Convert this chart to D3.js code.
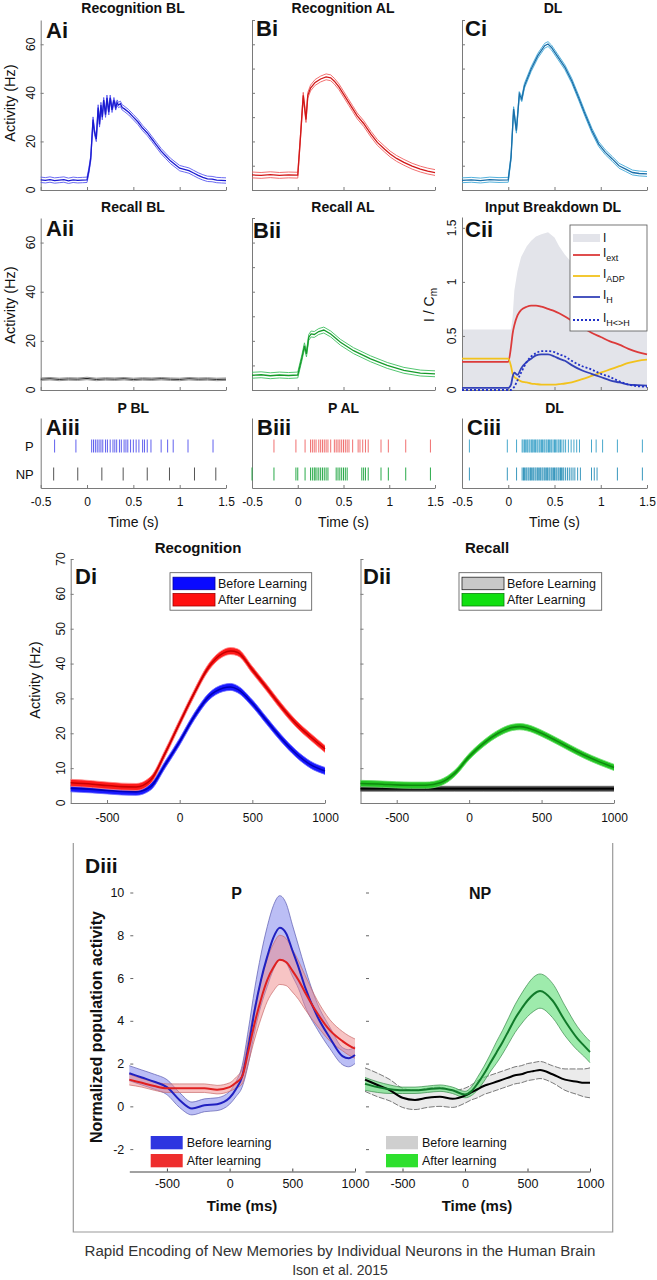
<!DOCTYPE html>
<html><head><meta charset="utf-8">
<script src="https://cdn.jsdelivr.net/npm/d3@7"></script>
<style>body{margin:0;background:#fff}svg{display:block}</style>
</head><body><svg id="c" width="657" height="1280"></svg>
<script>
// ================= DATA =================
// Row i (time in s, activity in Hz)
const aiT=[-0.5,-0.45,-0.4,-0.35,-0.3,-0.25,-0.2,-0.15,-0.1,-0.05,0,0.02,0.04,0.065,0.08,0.1,0.12,0.135,0.15,0.165,0.18,0.2,0.215,0.235,0.25,0.27,0.29,0.31,0.325,0.34,0.36,0.38,0.4,0.45,0.5,0.55,0.6,0.65,0.7,0.75,0.8,0.85,0.9,0.95,1.0,1.05,1.1,1.15,1.2,1.25,1.3,1.35,1.4,1.45,1.5];
const aiV=[4.2,4.0,4.3,3.9,4.1,4.3,3.8,4.2,4.0,4.1,4.2,8,13,29,24,21,34,27,35,30,37,31,38,32,38,33,37,34,36,35,35.5,34,33.5,32,30,28,25.5,23.5,21,18.5,16,14,12,10.5,9,8.5,8,7,6,5.2,4.6,4.5,4.1,4.0,3.9];
const aiSem=1.1;
const biT=[-0.5,-0.4,-0.3,-0.2,-0.1,0,0.03,0.06,0.09,0.11,0.14,0.19,0.25,0.31,0.36,0.4,0.45,0.5,0.55,0.6,0.65,0.72,0.8,0.87,0.95,1.01,1.08,1.16,1.25,1.34,1.42,1.5];
const biV=[6.2,6.0,6.3,6.0,6.2,6.1,22,39,29,39,42,44.3,45.7,46.6,46.2,44.8,42.5,39.5,36.5,33.5,30.5,27.4,23,19.6,16.8,14.8,13,11.4,9.8,8.6,7.8,7.2];
const biSem=1.2;
const ciT=[-0.5,-0.4,-0.3,-0.2,-0.1,0,0.03,0.058,0.088,0.12,0.146,0.175,0.248,0.32,0.394,0.43,0.467,0.54,0.613,0.686,0.76,0.83,0.905,0.978,1.05,1.124,1.197,1.27,1.343,1.416,1.5];
const ciV=[4.0,4.2,3.9,4.3,4.1,4.2,13.4,33.3,24.4,39.5,37.4,42.9,49.8,55.3,59.4,60.1,58.7,54.6,50.5,45,38.1,31.3,24.4,18.9,15.5,12.8,10,8.6,7.2,6.8,6.6];
const ciSem=1.0;
// Row ii
const aiiT=[-0.5,-0.4,-0.3,-0.2,-0.1,0,0.1,0.2,0.3,0.4,0.5,0.6,0.7,0.8,0.9,1.0,1.1,1.2,1.3,1.4,1.5];
const aiiV=[4.4,4.6,4.3,4.5,4.4,4.7,4.3,4.5,4.4,4.6,4.3,4.5,4.4,4.6,4.4,4.3,4.6,4.4,4.5,4.3,4.4];
const aiiSem=0.5;
const biiT=[-0.5,-0.4,-0.3,-0.2,-0.1,0,0.047,0.073,0.095,0.12,0.146,0.18,0.23,0.285,0.36,0.467,0.61,0.796,0.978,1.16,1.34,1.5];
const biiV=[6.0,6.2,5.8,6.1,5.9,6.1,13.4,18,14.7,21.4,22.8,22.6,23.8,24.4,22.8,19.4,16,12.7,10,8,6.9,6.6];
const biiSem=1.2;
// Cii input breakdown (I / Cm)
const ciiT=[-0.5,-0.25,0,0.03,0.047,0.066,0.1,0.139,0.2,0.248,0.3,0.358,0.43,0.5,0.55,0.613,0.686,0.8,0.9,1.0,1.1,1.2,1.3,1.4,1.5];
const ciiI=[0.56,0.56,0.56,0.56,0.67,0.92,1.1,1.23,1.33,1.38,1.42,1.44,1.46,1.41,1.33,1.25,1.18,1.0,0.85,0.75,0.7,0.69,0.68,0.68,0.68];
const ciiExt=[0.26,0.26,0.26,0.4,0.52,0.6,0.69,0.74,0.77,0.78,0.78,0.77,0.75,0.73,0.71,0.68,0.64,0.58,0.53,0.49,0.45,0.42,0.38,0.35,0.33];
const ciiADP=[0.29,0.29,0.29,0.22,0.15,0.12,0.1,0.08,0.07,0.06,0.055,0.05,0.05,0.05,0.055,0.06,0.07,0.1,0.13,0.16,0.19,0.22,0.25,0.27,0.28];
const ciiH=[0.02,0.02,0.02,0.05,0.12,0.16,0.14,0.2,0.26,0.29,0.32,0.33,0.33,0.31,0.29,0.27,0.23,0.18,0.15,0.12,0.09,0.07,0.05,0.045,0.04];
const ciiHH=[0.0,0.0,0.0,0.0,0.01,0.03,0.09,0.16,0.26,0.31,0.34,0.36,0.36,0.35,0.33,0.31,0.27,0.22,0.19,0.15,0.12,0.08,0.05,0.035,0.03];
// Row iii rasters (spike times, s)
const rasterRows=['P','NP'];
const rasterPBL=[-0.35,-0.12,0.05,0.07,0.09,0.11,0.13,0.15,0.17,0.2,0.22,0.25,0.28,0.3,0.32,0.35,0.37,0.4,0.42,0.44,0.47,0.5,0.53,0.56,0.6,0.62,0.65,0.69,0.8,0.87,0.93,1.09,1.36];
const rasterNPBL=[-0.36,-0.1,0.16,0.39,0.65,0.89,1.16,1.39];
const rasterPAL=[-0.26,-0.02,0.08,0.14,0.16,0.18,0.2,0.23,0.25,0.27,0.29,0.31,0.33,0.36,0.4,0.42,0.44,0.46,0.48,0.5,0.52,0.54,0.56,0.6,0.66,0.68,0.71,0.74,0.77,0.91,0.99,1.18,1.45];
const rasterNPAL=[-0.5,-0.26,-0.02,0.0,0.08,0.14,0.16,0.18,0.19,0.21,0.23,0.25,0.27,0.29,0.31,0.33,0.42,0.44,0.46,0.48,0.5,0.52,0.54,0.7,0.72,0.74,0.77,0.91,0.99,1.18,1.45];
const rasterPDL=[-0.42,-0.01,0.09,0.15,0.16,0.175,0.185,0.2,0.21,0.225,0.235,0.25,0.26,0.27,0.285,0.295,0.31,0.32,0.335,0.345,0.36,0.37,0.385,0.395,0.41,0.42,0.435,0.445,0.46,0.47,0.485,0.5,0.51,0.525,0.54,0.55,0.565,0.58,0.6,0.62,0.65,0.68,0.71,0.74,0.77,0.9,0.95,1.02,1.18,1.45];
const rasterNPDL=[-0.42,-0.01,0.09,0.15,0.165,0.175,0.19,0.2,0.215,0.225,0.24,0.25,0.265,0.275,0.29,0.3,0.315,0.325,0.34,0.35,0.365,0.375,0.39,0.4,0.415,0.425,0.44,0.45,0.465,0.475,0.49,0.5,0.515,0.525,0.54,0.55,0.565,0.575,0.59,0.6,0.62,0.64,0.66,0.68,0.7,0.72,0.75,0.78,0.9,0.93,0.96,1.18,1.45];
// D panels (time in ms)
const dT=[-750,-600,-500,-400,-300,-200,-100,0,100,200,300,350,400,500,600,700,800,900,1000];
const diBefore=[4.2,3.9,3.6,3.3,3.2,4.7,11,17.6,24.8,30.5,33,33.3,32.6,28.6,23.5,18.5,14.2,11,9.2];
const diAfter=[5.8,5.4,5.0,4.7,4.6,6.6,14.3,23,31.5,39,43,43.6,43.2,38.2,33,27.6,22.8,19,15.5];
const diiBefore=[4.1,4.1,4.1,4.1,4.1,4.1,4.1,4.1,4.1,4.1,4.1,4.1,4.1,4.1,4.1,4.1,4.1,4.1,4.1];
const diiAfter=[5.6,5.4,5.2,5.1,5.1,5.8,8.5,13.3,17.1,20,21.7,21.9,21.6,20,17.9,15.7,13.6,11.8,10.2];
const dSem=1.0;
// Diii normalized population activity
const pT=[-800,-700,-600,-500,-400,-300,-200,-100,0,50,100,150,200,250,300,350,400,450,500,550,600,700,800,900,950,1000];
const pBefore=[1.55,1.35,1.15,0.9,0.3,-0.1,0.05,0.1,0.4,0.8,1.4,2.8,4.5,5.9,7.0,7.9,8.35,8.1,7.3,6.5,5.6,4.2,3.2,2.35,2.25,2.4];
const pBeforeSE=[0.35,0.35,0.35,0.35,0.35,0.3,0.3,0.3,0.3,0.35,0.5,0.8,1.0,1.2,1.4,1.5,1.5,1.4,1.2,1.0,0.9,0.6,0.5,0.4,0.4,0.4];
const pAfter=[1.25,1.1,0.95,0.85,0.85,0.85,0.85,0.78,0.9,1.1,1.4,2.6,3.9,5.0,5.9,6.5,6.85,6.75,6.35,5.9,5.35,4.35,3.55,3.05,2.85,2.7];
const pAfterSE=[0.25,0.2,0.2,0.2,0.2,0.2,0.2,0.2,0.2,0.25,0.35,0.55,0.75,0.9,1.0,1.1,1.15,1.1,1.0,0.9,0.8,0.6,0.5,0.45,0.45,0.45];
const npBefore=[1.25,1.0,0.75,0.4,0.3,0.4,0.45,0.35,0.5,0.65,0.8,0.95,1.05,1.15,1.25,1.35,1.45,1.5,1.6,1.65,1.7,1.5,1.25,1.15,1.1,1.1];
const npBeforeSE=[0.55,0.55,0.5,0.45,0.45,0.45,0.45,0.4,0.35,0.35,0.4,0.4,0.4,0.4,0.4,0.4,0.4,0.4,0.4,0.4,0.4,0.4,0.5,0.6,0.65,0.7];
const npAfter=[1.05,0.9,0.8,0.75,0.75,0.8,0.85,0.75,0.55,0.7,1.06,1.5,2.0,2.5,3.0,3.55,4.1,4.55,4.95,5.25,5.39,4.95,4.0,3.17,2.85,2.54];
const npAfterSE=[0.3,0.25,0.2,0.15,0.15,0.15,0.15,0.15,0.15,0.2,0.3,0.35,0.4,0.5,0.55,0.6,0.65,0.7,0.75,0.8,0.8,0.8,0.7,0.55,0.5,0.5];
// ticks
const secTicks=[-0.5,0,0.5,1,1.5];
const hzTicks10=[0,10,20,30,40,50,60,70];
const hzTicks20=[0,20,40,60];
const cmTicks=[0,0.5,1,1.5];
const msTicks=[-500,0,500,1000];
const normTicks=[-2,0,2,4,6,8,10];

// ================= DRAWING =================
const FONT='"Liberation Sans", Arial, Helvetica, sans-serif';
const AX='#7a7a7a';
const svg=d3.select('#c').style('font-family',FONT);
svg.append('rect').attr('width',657).attr('height',1280).attr('fill','#fff');

function panel(x0,x1,y0,y1,xd,yd){
  return {x:d3.scaleLinear().domain(xd).range([x0,x1]),y:d3.scaleLinear().domain(yd).range([y1,y0]),x0,x1,y0,y1};
}
function axes(p,xt,yt,o={}){
  const gx=svg.append('g').attr('transform',`translate(0,${p.y1})`)
    .call(d3.axisBottom(p.x).tickValues(xt).tickSizeInner(-3).tickSizeOuter(0).tickPadding(o.xpad||9)
      .tickFormat(o.xlab?(d=>String(d)):''));
  gx.selectAll('path,line').attr('stroke',AX);
  gx.selectAll('text').attr('fill','#111').style('font-size',(o.fs||12)+'px').style('font-family',FONT);
  if(o.noY) return;
  const gy=svg.append('g').attr('transform',`translate(${p.x0},0)`)
    .call(d3.axisLeft(p.y).tickValues(yt).tickSizeInner(-3).tickSizeOuter(0).tickFormat(''));
  gy.selectAll('path,line').attr('stroke',AX);
  if(o.ylabRot){
    yt.forEach(v=>{
      svg.append('text').attr('transform',`translate(${p.x0-o.ylabRot},${p.y(v)}) rotate(-90)`)
        .attr('text-anchor','middle').attr('dominant-baseline','central')
        .style('font-size','12px').attr('fill','#111').text(String(v));
    });
  }
}
function txt(x,y,s,o={}){
  const t=svg.append('text').attr('x',x).attr('y',y).attr('text-anchor',o.anchor||'middle')
    .attr('dominant-baseline','central').style('font-size',(o.fs||12)+'px')
    .style('font-weight',o.bold?'bold':'normal').attr('fill',o.fill||'#111').text(s);
  if(o.rot) t.attr('transform',`rotate(-90,${x},${y})`);
  return t;
}
function zip(T,V,off){return T.map((t,i)=>[t,V[i]+(off?off[i]:0)]);}
function semLines(p,T,V,sem,col,meanCol,w){
  const ln=d3.line().x(d=>p.x(d[0])).y(d=>p.y(d[1]));
  [sem,-sem].forEach(s=>svg.append('path').attr('d',ln(T.map((t,i)=>[t,V[i]+s])))
    .attr('fill','none').attr('stroke',col).attr('stroke-width',0.9));
  svg.append('path').attr('d',ln(zip(T,V))).attr('fill','none').attr('stroke',meanCol).attr('stroke-width',w||1.3);
}

// ----- columns -----
const colX=[[40.7,226],[252,435],[462,647]];

// Row i
const pAi=panel(colX[0][0],colX[0][1],20,190,[-0.5,1.5],[0,70]);
const pBi=panel(colX[1][0],colX[1][1],20,190,[-0.5,1.5],[0,70]);
const pCi=panel(colX[2][0],colX[2][1],20,190,[-0.5,1.5],[0,70]);
axes(pAi,secTicks,hzTicks20,{ylabRot:10});
axes(pBi,secTicks,hzTicks10);
axes(pCi,secTicks,hzTicks10);
semLines(pAi,aiT,aiV,aiSem,'#5a5af0','#1a1ad0');
semLines(pBi,biT,biV,biSem,'#f06060','#d01818');
semLines(pCi,ciT,ciV,ciSem,'#40a8d8','#1a6ea8');
txt(133,8,'Recognition BL',{bold:true,fs:14});
txt(343,8,'Recognition AL',{bold:true,fs:14});
txt(553,8,'DL',{bold:true,fs:14});
txt(46,30,'Ai',{bold:true,fs:22,anchor:'start'});
txt(256,28,'Bi',{bold:true,fs:22,anchor:'start'});
txt(465,28,'Ci',{bold:true,fs:22,anchor:'start'});
txt(10,103,'Activity (Hz)',{fs:14.5,rot:true});

// Row ii
const pAii=panel(colX[0][0],colX[0][1],218,390,[-0.5,1.5],[0,70]);
const pBii=panel(colX[1][0],colX[1][1],218,390,[-0.5,1.5],[0,70]);
const pCii=panel(colX[2][0],colX[2][1],217,390,[-0.5,1.5],[0,1.6]);
// Cii gray total input area
svg.append('path').attr('d',d3.area().x(d=>pCii.x(d[0])).y0(pCii.y(0)).y1(d=>pCii.y(d[1]))(zip(ciiT,ciiI)))
  .attr('fill','#e3e4ea');
axes(pAii,secTicks,hzTicks20,{ylabRot:10});
axes(pBii,secTicks,hzTicks10);
axes(pCii,secTicks,cmTicks,{ylabRot:10});
semLines(pAii,aiiT,aiiV,aiiSem,'#888','#222',1);
semLines(pBii,biiT,biiV,biiSem,'#40c060','#159a2a');
const lnC=d3.line().x(d=>pCii.x(d[0])).y(d=>pCii.y(d[1])).curve(d3.curveMonotoneX);
const ciiSeries=[
  {v:ciiExt,c:'#dc3a3a',dash:null,name:'ext'},
  {v:ciiADP,c:'#f2c21c',dash:null,name:'ADP'},
  {v:ciiH,c:'#3442b8',dash:null,name:'H'},
  {v:ciiHH,c:'#2030c8',dash:'2,2',name:'H<>H'}];
ciiSeries.forEach(s=>svg.append('path').attr('d',lnC(zip(ciiT,s.v))).attr('fill','none')
  .attr('stroke',s.c).attr('stroke-width',1.8).attr('stroke-dasharray',s.dash));
// Cii legend
const lg=svg.append('g');
lg.append('rect').attr('x',570).attr('y',225).attr('width',77).attr('height',106).attr('fill','#fff').attr('stroke','#555').attr('stroke-width',0.8);
lg.append('rect').attr('x',573).attr('y',234).attr('width',27).attr('height',8).attr('fill','#e3e4ea');
function legLab(y,sub){
  const t=lg.append('text').attr('x',603).attr('y',y).style('font-size','12px').attr('fill','#111').text('I');
  if(sub) t.append('tspan').attr('dy',4).style('font-size','9px').text(sub);
}
legLab(242,null);
const legRowsY=[255,276,297,320];
ciiSeries.forEach((s,i)=>{
  lg.append('line').attr('x1',573).attr('x2',600).attr('y1',legRowsY[i]).attr('y2',legRowsY[i])
    .attr('stroke',s.c).attr('stroke-width',1.8).attr('stroke-dasharray',s.dash);
  legLab(legRowsY[i]+2,s.name);
});
txt(133,207,'Recall BL',{bold:true,fs:14});
txt(343,207,'Recall AL',{bold:true,fs:14});
txt(553,207,'Input Breakdown DL',{bold:true,fs:14});
txt(46,228,'Aii',{bold:true,fs:22,anchor:'start'});
txt(253,230,'Bii',{bold:true,fs:22,anchor:'start'});
txt(465,229,'Cii',{bold:true,fs:22,anchor:'start'});
txt(10,305,'Activity (Hz)',{fs:14.5,rot:true});
const cmLab=svg.append('text').attr('transform','translate(429,305) rotate(-90)').attr('text-anchor','middle')
  .attr('dominant-baseline','central').style('font-size','14px').attr('fill','#111').text('I / C');
cmLab.append('tspan').attr('dy',4).style('font-size','10px').text('m');

// Row iii rasters
const rasters=[
  {col:0,P:rasterPBL,NP:rasterNPBL,cP:'#6060ee',cNP:'#555',title:'P BL',lab:'Aiii'},
  {col:1,P:rasterPAL,NP:rasterNPAL,cP:'#f07070',cNP:'#2aaa4a',title:'P AL',lab:'Biii'},
  {col:2,P:rasterPDL,NP:rasterNPDL,cP:'#48a8cc',cNP:'#3a98be',title:'DL',lab:'Ciii'}];
rasters.forEach(r=>{
  const p=panel(colX[r.col][0],colX[r.col][1],418,488,[-0.5,1.5],[0,1]);
  const row=d3.scalePoint().domain(rasterRows).range([446,474]);
  axes(p,secTicks,[],{xlab:true,xpad:9,fs:12});
  rasterRows.forEach(k=>{
    svg.append('g').selectAll('line').data(r[k]).join('line')
      .attr('x1',d=>p.x(d)).attr('x2',d=>p.x(d)).attr('y1',row(k)-6.5).attr('y2',row(k)+6.5)
      .attr('stroke',k==='P'?r.cP:r.cNP).attr('stroke-width',1);
  });
  if(r.col===0) rasterRows.forEach(k=>txt(p.x0-7,row(k),k,{fs:13,anchor:'end'}));
  txt((p.x0+p.x1)/2,407.5,r.title,{bold:true,fs:14});
  txt(p.x0+5,427,r.lab,{bold:true,fs:22,anchor:'start'});
  txt((p.x0+p.x1)/2,522,'Time (s)',{fs:14});
});

// Di / Dii
const pDi=panel(70.7,325,559,803,[-750,1000],[0,70]);
const pDii=panel(360.5,614,559,803,[-750,1000],[0,70]);
axes(pDi,msTicks,hzTicks10,{xlab:true,xpad:10,ylabRot:10});
axes(pDii,msTicks,hzTicks10,{xlab:true,xpad:10});
function bandD(p,V,sem,fill,edge,mean){
  const ar=d3.area().x((d,i)=>p.x(dT[i])).y0(d=>p.y(d-sem)).y1(d=>p.y(d+sem)).curve(d3.curveMonotoneX);
  const ln=d3.line().x((d,i)=>p.x(dT[i])).y(d=>p.y(d)).curve(d3.curveMonotoneX);
  svg.append('path').attr('d',ar(V)).attr('fill',fill);
  [sem,-sem].forEach(s=>svg.append('path').attr('d',ln(V.map(v=>v+s))).attr('fill','none').attr('stroke',edge).attr('stroke-width',0.8));
  svg.append('path').attr('d',ln(V)).attr('fill','none').attr('stroke',mean).attr('stroke-width',1.6);
}
bandD(pDi,diBefore,dSem,'#1818ff','#6a6aff','#0000b8');
bandD(pDi,diAfter,dSem,'#ff1a1a','#ff8a8a','#c80000');
bandD(pDii,diiBefore,0.7,'#333','#666','#000');
bandD(pDii,diiAfter,0.9,'#22c422','#6ee06e','#0f8a0f');
function legendD(x,y,w,items){
  const g=svg.append('g');
  g.append('rect').attr('x',x).attr('y',y).attr('width',w).attr('height',37.5).attr('fill','#fff').attr('stroke','#555').attr('stroke-width',0.8);
  items.forEach((it,i)=>{
    g.append('rect').attr('x',x+3).attr('y',y+4.5+i*16.3).attr('width',42).attr('height',12.5)
      .attr('fill',it.c).attr('stroke',it.s).attr('stroke-width',0.8);
    g.append('text').attr('x',x+48).attr('y',y+11+i*16.3).attr('dominant-baseline','central')
      .style('font-size','12.5px').attr('fill','#111').text(it.t);
  });
}
legendD(170,572.7,141.7,[{t:'Before Learning',c:'#0a0aff',s:'#0000a0'},{t:'After Learning',c:'#ff1010',s:'#a00000'}]);
legendD(459,572.7,142.7,[{t:'Before Learning',c:'#c8c8c8',s:'#222'},{t:'After Learning',c:'#10e010',s:'#0a800a'}]);
txt(198,547.5,'Recognition',{bold:true,fs:15});
txt(487,547.5,'Recall',{bold:true,fs:15});
txt(75,576,'Di',{bold:true,fs:22,anchor:'start'});
txt(363,576,'Dii',{bold:true,fs:22,anchor:'start'});
txt(35,680,'Activity (Hz)',{fs:14.5,rot:true});

// Diii box
svg.append('path').attr('d','M73.3,843V1232H612.7V843').attr('fill','none').attr('stroke','#9a9a9a').attr('stroke-width',1.2);
const pP=panel(129.3,355,892.5,1170.5,[-800,1000],[-3,10]);
const pNP=panel(365,590,892.5,1170.5,[-800,1000],[-3,10]);
[pP,pNP].forEach((p,k)=>{
  const gx=svg.append('g').attr('transform',`translate(0,${p.y1+1})`)
    .call(d3.axisBottom(p.x).tickValues(msTicks).tickSizeInner(-3).tickSizeOuter(0).tickPadding(8).tickFormat(d=>String(d)));
  gx.selectAll('path,line').attr('stroke','#444');
  gx.selectAll('text').attr('fill','#111').style('font-size','12.5px').style('font-family',FONT);
  const gy=svg.append('g').attr('transform',`translate(${p.x0+1},0)`)
    .call(d3.axisLeft(p.y).tickValues(normTicks).tickSizeInner(-3).tickSizeOuter(0).tickPadding(6).tickFormat(k===0?(d=>String(d)):''));
  gy.select('.domain').remove();
  gy.selectAll('line').attr('stroke','#666');
  gy.selectAll('text').attr('fill','#111').style('font-size','12.5px').style('font-family',FONT);
});
function bandN(p,V,SE,fill,op,edge,mean,dash){
  const ar=d3.area().x((d,i)=>p.x(pT[i])).y0((d,i)=>p.y(d-SE[i])).y1((d,i)=>p.y(d+SE[i])).curve(d3.curveMonotoneX);
  const ln=d3.line().x((d,i)=>p.x(pT[i])).y(d=>p.y(d)).curve(d3.curveMonotoneX);
  svg.append('path').attr('d',ar(V)).attr('fill',fill).attr('fill-opacity',op);
  [1,-1].forEach(s=>svg.append('path').attr('d',ln(V.map((v,i)=>v+s*SE[i]))).attr('fill','none')
    .attr('stroke',edge).attr('stroke-width',0.7).attr('stroke-dasharray',dash));
  return ()=>svg.append('path').attr('d',ln(V)).attr('fill','none').attr('stroke',mean).attr('stroke-width',2);
}
const m1=bandN(pP,pBefore,pBeforeSE,'#8d93ee',0.6,'#5a5ab0','#2020c0',null);
const m2=bandN(pP,pAfter,pAfterSE,'#f08a8a',0.5,'#c86a6a','#e02020',null);
m1();m2();
const m3=bandN(pNP,npBefore,npBeforeSE,'#e6e6e6',0.8,'#444','#000','6,1.5');
const m4=bandN(pNP,npAfter,npAfterSE,'#5ede74',0.6,'#3a8a4a','#117a2a',null);
m3();m4();
txt(236.7,893,'P',{bold:true,fs:16});
txt(480,893,'NP',{bold:true,fs:16});
txt(85,865,'Diii',{bold:true,fs:21,anchor:'start'});
txt(96.7,1027,'Normalized population activity',{bold:true,fs:16,rot:true});
txt(242,1205,'Time (ms)',{bold:true,fs:15});
txt(477,1205,'Time (ms)',{bold:true,fs:15});
function legendN(x,items){
  items.forEach((it,i)=>{
    svg.append('rect').attr('x',x).attr('y',1136+i*18).attr('width',32).attr('height',13.3).attr('fill',it.c);
    svg.append('text').attr('x',x+36).attr('y',1143+i*18).attr('dominant-baseline','central')
      .style('font-size','12.5px').attr('fill','#111').text(it.t);
  });
}
legendN(150.7,[{t:'Before learning',c:'#2e36e0'},{t:'After learning',c:'#ee2e2e'}]);
legendN(386,[{t:'Before learning',c:'#cfcfcf'},{t:'After learning',c:'#2ee02e'}]);

// caption
svg.append('text').attr('x',340).attr('y',1256).attr('text-anchor','middle').style('font-size','14px').attr('fill','#333')
  .attr('textLength',511).attr('lengthAdjust','spacingAndGlyphs')
  .text('Rapid Encoding of New Memories by Individual Neurons in the Human Brain');
svg.append('text').attr('x',340).attr('y',1275).attr('text-anchor','middle').style('font-size','14px').attr('fill','#333')
  .text('Ison et al. 2015');
</script></body></html>
